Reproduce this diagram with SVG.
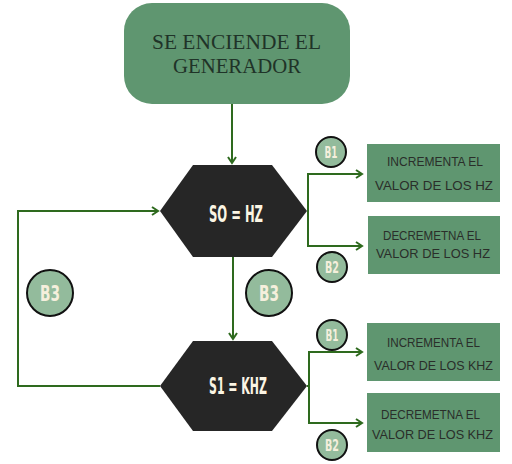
<svg xmlns="http://www.w3.org/2000/svg" width="512" height="464" viewBox="0 0 512 464">
<defs>
<marker id="ah" markerWidth="10" markerHeight="10" refX="7" refY="5" orient="auto" markerUnits="userSpaceOnUse">
<path d="M1,1 L7,5 L1,9" fill="none" stroke="#2e6a1e" stroke-width="2"/>
</marker>
</defs>
<style>
.conn{fill:none;stroke:#2e6a1e;stroke-width:2}
.hex{fill:#262626}
.box{fill:#5f9670}
.circ{fill:#93bb9c;stroke:#111;stroke-width:2}
.ctext{font-family:"DejaVu Sans Condensed","DejaVu Sans",sans-serif;font-weight:bold;fill:#f5efdc;text-anchor:middle}
.htext{font-family:"DejaVu Sans Condensed","DejaVu Sans",sans-serif;font-weight:bold;fill:#fbf5e4;font-size:23px}
.btext{font-family:"Liberation Sans",sans-serif;fill:#2a2e2a;font-size:13.5px}
.ttext{font-family:"Liberation Serif",serif;fill:#1f3328;font-size:22px}
</style>
<rect width="512" height="464" fill="#ffffff"/>
<g id="connectors">
<line class="conn" x1="232" y1="104" x2="232" y2="163" marker-end="url(#ah)"/>
<line class="conn" x1="233" y1="257" x2="233" y2="339" marker-end="url(#ah)"/>
<polyline class="conn" points="160,386 18,386 18,211 158,211" marker-end="url(#ah)"/>
<polyline class="conn" points="307,211 308,211 308,174 362,174" marker-end="url(#ah)"/>
<polyline class="conn" points="308,211 308,246 362,246" marker-end="url(#ah)"/>
<polyline class="conn" points="307,386 309,386 309,352 362,352" marker-end="url(#ah)"/>
<polyline class="conn" points="309,386 309,423 362,423" marker-end="url(#ah)"/>
</g>
<g id="start">
<rect x="124" y="3" width="226" height="101" rx="28" fill="#5f9670"/>
<text class="ttext" x="152" y="49" textLength="169" lengthAdjust="spacingAndGlyphs">SE ENCIENDE EL</text>
<text class="ttext" x="173" y="73" textLength="128" lengthAdjust="spacingAndGlyphs">GENERADOR</text>
</g>
<g id="s0">
<polygon class="hex" points="160,211 193,165 272,165 307,211 272,257 193,257"/>
<text class="htext" x="209" y="222" textLength="54" lengthAdjust="spacingAndGlyphs">SO = HZ</text>
</g>
<g id="s1">
<polygon class="hex" points="160,386 193,341 272,341 307,386 272,431 193,431"/>
<text class="htext" x="209" y="394" textLength="58" lengthAdjust="spacingAndGlyphs">S1 = KHZ</text>
</g>
<g id="box1">
<rect class="box" x="367" y="144" width="133" height="58"/>
<text class="btext" x="387" y="166" textLength="96" lengthAdjust="spacingAndGlyphs">INCREMENTA EL</text>
<text class="btext" x="375" y="190" textLength="118" lengthAdjust="spacingAndGlyphs">VALOR DE LOS HZ</text>
</g>
<g id="box2">
<rect class="box" x="368" y="216" width="132" height="58"/>
<text class="btext" x="383" y="240" textLength="98" lengthAdjust="spacingAndGlyphs">DECREMETNA EL</text>
<text class="btext" x="376" y="258" textLength="114" lengthAdjust="spacingAndGlyphs">VALOR DE LOS HZ</text>
</g>
<g id="box3">
<rect class="box" x="367" y="323" width="133" height="58"/>
<text class="btext" x="387" y="347" textLength="93" lengthAdjust="spacingAndGlyphs">INCREMENTA EL</text>
<text class="btext" x="374" y="370" textLength="119" lengthAdjust="spacingAndGlyphs">VALOR DE LOS KHZ</text>
</g>
<g id="box4">
<rect class="box" x="367" y="393" width="133" height="59"/>
<text class="btext" x="381" y="419" textLength="99" lengthAdjust="spacingAndGlyphs">DECREMETNA EL</text>
<text class="btext" x="372" y="439" textLength="121" lengthAdjust="spacingAndGlyphs">VALOR DE LOS KHZ</text>
</g>
<g id="b1-top">
<circle class="circ" cx="331" cy="152" r="15"/>
<text class="ctext" x="331" y="158" font-size="15" textLength="13" lengthAdjust="spacingAndGlyphs">B1</text>
</g>
<g id="b2-top">
<circle class="circ" cx="332" cy="267" r="15"/>
<text class="ctext" x="332" y="273" font-size="15" textLength="14" lengthAdjust="spacingAndGlyphs">B2</text>
</g>
<g id="b1-bottom">
<circle class="circ" cx="332" cy="335" r="15"/>
<text class="ctext" x="332" y="341" font-size="15" textLength="13" lengthAdjust="spacingAndGlyphs">B1</text>
</g>
<g id="b2-bottom">
<circle class="circ" cx="332" cy="445" r="15"/>
<text class="ctext" x="332" y="451" font-size="15" textLength="14" lengthAdjust="spacingAndGlyphs">B2</text>
</g>
<g id="b3-left">
<circle class="circ" cx="50" cy="293" r="23"/>
<text class="ctext" x="50" y="301" font-size="22" textLength="20" lengthAdjust="spacingAndGlyphs">B3</text>
</g>
<g id="b3-center">
<circle class="circ" cx="269" cy="293" r="23"/>
<text class="ctext" x="269" y="301" font-size="22" textLength="20" lengthAdjust="spacingAndGlyphs">B3</text>
</g>
</svg>
